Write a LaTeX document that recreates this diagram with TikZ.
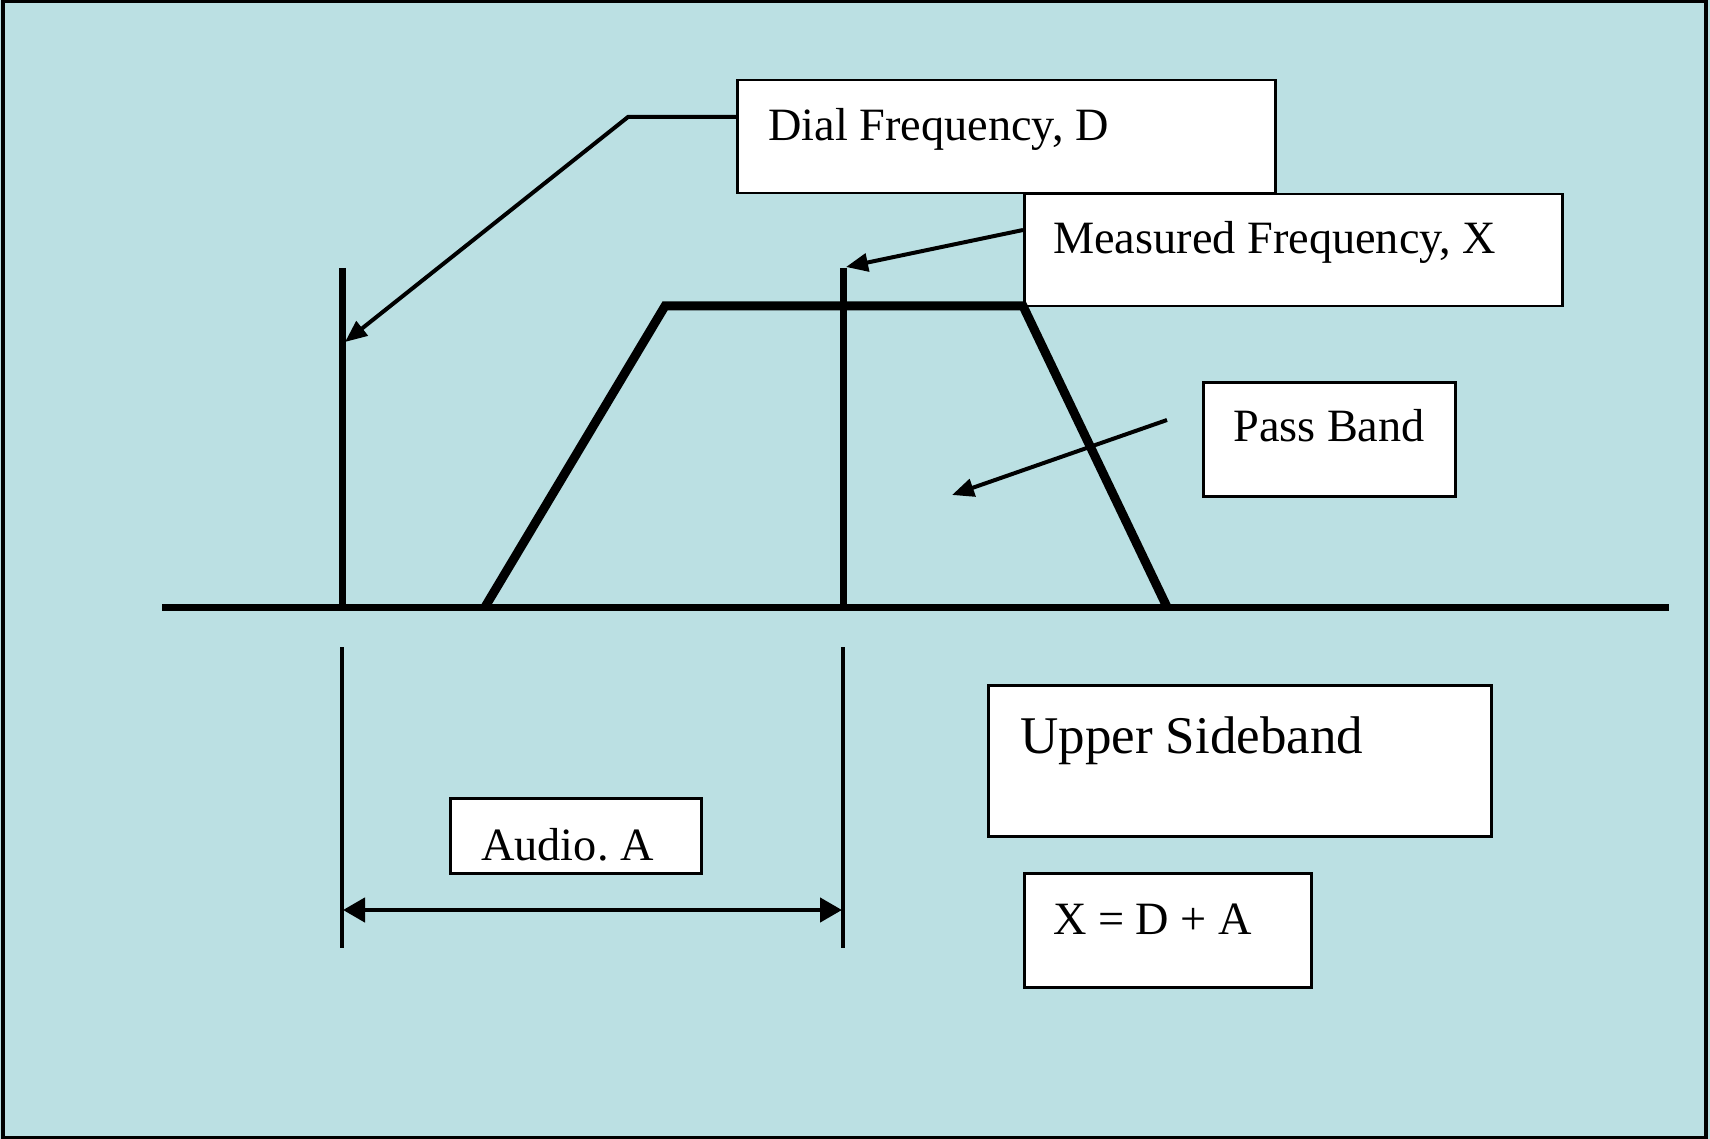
\documentclass[tikz,border=0pt]{standalone}
\usepackage{fontspec}
\setmainfont{Liberation Serif}
\usetikzlibrary{arrows.meta}
\definecolor{bgcol}{RGB}{187,224,227}
\frenchspacing
\begin{document}
\begin{tikzpicture}[x=1pt,y=-1pt,
  lbl/.style={draw, line width=2.5pt, fill=white, anchor=north west,
    inner xsep=0pt, inner ysep=0pt, align=flush left,
    font=\fontsize{46.3}{50}\selectfont},
  thick line/.style={line width=7pt},
  trap/.style={line width=9pt, line join=miter},
  leader/.style={line width=4pt, -{Triangle[length=22pt,width=18pt]}},
  dim/.style={line width=3.5pt},
  dimarrow/.style={line width=4.5pt, {Triangle[length=22pt,width=24pt]}-{Triangle[length=22pt,width=24pt]}}]
\useasboundingbox (0,0) rectangle (1710,1139);
\fill[bgcol] (0,0) rectangle (1710,1139);
\draw[line width=4pt] (2.5,1.5) rectangle (1706,1137.5);

% boxes
\node[lbl, text width=538pt, text height=60pt, text depth=53pt] (dial) at (736,79) {\hspace*{31pt}Dial Frequency, D};
\node[lbl, text width=538pt, text height=59pt, text depth=53pt] (meas) at (1023,193) {\hspace*{29pt}Measured Frequency, X};
\node[lbl, text width=252pt, text height=59pt, text depth=55pt] (pass) at (1202,381) {\hspace*{30pt}Pass Band};
\node[lbl, text width=503pt, text height=68pt, text depth=83pt, font=\fontsize{53}{58}\selectfont] (usb) at (987,684) {\hspace*{32pt}Upper Sideband};
\node[lbl, text width=287pt, text height=61pt, text depth=53pt] (eq) at (1023,872) {\hspace*{29pt}X = D + A};
\node[lbl, text width=251pt, text height=62pt, text depth=13pt] (audio) at (449,797) {\hspace*{31pt}Audio. A};

% axis and lines
\coordinate (axL) at (162,607);
\coordinate (axR) at (1669,607);
\coordinate (dTop) at (342,268);
\coordinate (dBot) at (342,607);
\coordinate (xTop) at (843,268);
\coordinate (xBot) at (843,607);
\coordinate (dTip) at (345,342);
\coordinate (xTip) at (846,267);
\coordinate (bend) at (628,117);
\coordinate (pbStart) at (1167,420);
\coordinate (pbTip) at (952,495);

\draw[thick line] (axL) -- (axR);
\draw[thick line] (dTop) -- (dBot);
\draw[thick line] (xTop) -- (xBot);
\draw[trap] (485,607) -- (665,306) -- (1023,306) -- (1167,607);

\draw[leader] ([yshift=-38pt]dial.north west) -- (bend) -- (dTip);
\draw[leader] ([yshift=-37pt]meas.north west) -- (xTip);
\draw[leader] (pbStart) -- (pbTip);

% dimension
\coordinate (dimL1) at (342,647);
\coordinate (dimL2) at (342,948);
\coordinate (dimR1) at (843,647);
\coordinate (dimR2) at (843,948);
\draw[dim] (dimL1) -- (dimL2);
\draw[dim] (dimR1) -- (dimR2);
\coordinate (aL) at (343,910);
\coordinate (aR) at (842,910);
\draw[dimarrow] (aL) -- (aR);
\end{tikzpicture}
\end{document}
